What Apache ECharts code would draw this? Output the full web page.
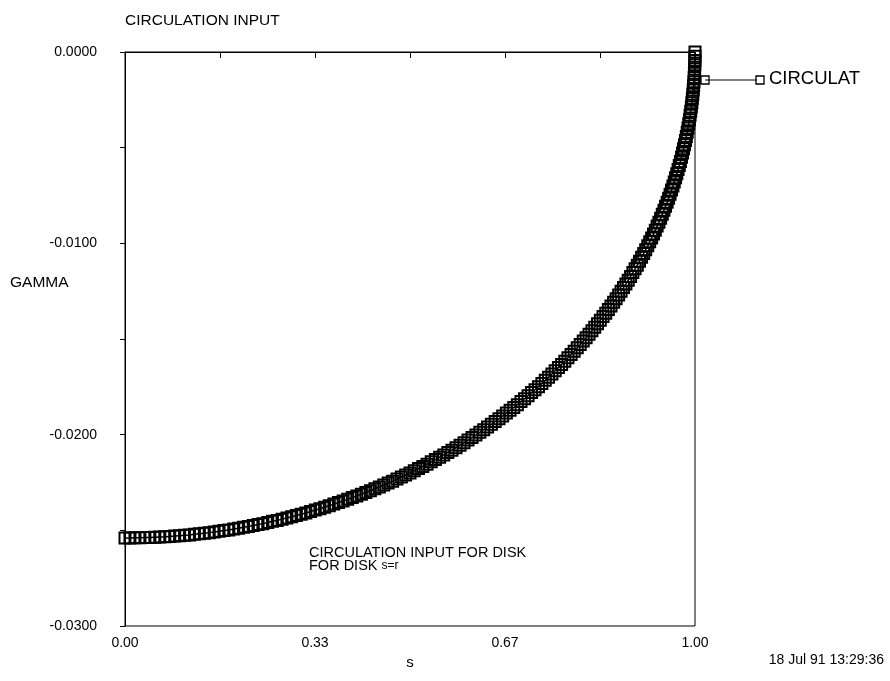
<!DOCTYPE html>
<html>
<head>
<meta charset="utf-8">
<title>CIRCULATION INPUT</title>
<script src="https://cdn.jsdelivr.net/npm/echarts@6/dist/echarts.min.js"></script>
<style>
  html, body { margin: 0; padding: 0; background: #fff; }
  #chart { width: 890px; height: 681px; }
</style>
</head>
<body>
<div id="chart"></div>
<script>
// Radial station s = r / R along the disk
const sValues = [
  0.0000, 0.0087, 0.0175, 0.0262, 0.0349, 0.0436, 0.0523, 0.0610, 0.0698, 0.0785,
  0.0872, 0.0958, 0.1045, 0.1132, 0.1219, 0.1305, 0.1392, 0.1478, 0.1564, 0.1650,
  0.1736, 0.1822, 0.1908, 0.1994, 0.2079, 0.2164, 0.2250, 0.2334, 0.2419, 0.2504,
  0.2588, 0.2672, 0.2756, 0.2840, 0.2924, 0.3007, 0.3090, 0.3173, 0.3256, 0.3338,
  0.3420, 0.3502, 0.3584, 0.3665, 0.3746, 0.3827, 0.3907, 0.3987, 0.4067, 0.4147,
  0.4226, 0.4305, 0.4384, 0.4462, 0.4540, 0.4617, 0.4695, 0.4772, 0.4848, 0.4924,
  0.5000, 0.5075, 0.5150, 0.5225, 0.5299, 0.5373, 0.5446, 0.5519, 0.5592, 0.5664,
  0.5736, 0.5807, 0.5878, 0.5948, 0.6018, 0.6088, 0.6157, 0.6225, 0.6293, 0.6361,
  0.6428, 0.6494, 0.6561, 0.6626, 0.6691, 0.6756, 0.6820, 0.6884, 0.6947, 0.7009,
  0.7071, 0.7133, 0.7193, 0.7254, 0.7314, 0.7373, 0.7431, 0.7490, 0.7547, 0.7604,
  0.7660, 0.7716, 0.7771, 0.7826, 0.7880, 0.7934, 0.7986, 0.8039, 0.8090, 0.8141,
  0.8192, 0.8241, 0.8290, 0.8339, 0.8387, 0.8434, 0.8480, 0.8526, 0.8572, 0.8616,
  0.8660, 0.8703, 0.8746, 0.8788, 0.8829, 0.8870, 0.8910, 0.8949, 0.8988, 0.9026,
  0.9063, 0.9100, 0.9135, 0.9171, 0.9205, 0.9239, 0.9272, 0.9304, 0.9336, 0.9367,
  0.9397, 0.9426, 0.9455, 0.9483, 0.9511, 0.9537, 0.9563, 0.9588, 0.9613, 0.9636,
  0.9659, 0.9681, 0.9703, 0.9724, 0.9744, 0.9763, 0.9781, 0.9799, 0.9816, 0.9833,
  0.9848, 0.9863, 0.9877, 0.9890, 0.9903, 0.9914, 0.9925, 0.9936, 0.9945, 0.9954,
  0.9962, 0.9969, 0.9976, 0.9981, 0.9986, 0.9990, 0.9994, 0.9997, 0.9998, 1.0000,
  1.0000
];

// Circulation GAMMA at each station
const gammaValues = [
  -0.02540, -0.02540, -0.02539, -0.02539, -0.02538, -0.02537, -0.02536, -0.02535, -0.02534, -0.02532,
  -0.02530, -0.02528, -0.02526, -0.02524, -0.02521, -0.02518, -0.02515, -0.02512, -0.02509, -0.02505,
  -0.02501, -0.02498, -0.02493, -0.02489, -0.02484, -0.02480, -0.02475, -0.02470, -0.02465, -0.02459,
  -0.02453, -0.02448, -0.02442, -0.02435, -0.02429, -0.02422, -0.02416, -0.02409, -0.02402, -0.02394,
  -0.02387, -0.02379, -0.02371, -0.02363, -0.02355, -0.02347, -0.02338, -0.02329, -0.02320, -0.02311,
  -0.02302, -0.02293, -0.02283, -0.02273, -0.02263, -0.02253, -0.02243, -0.02232, -0.02221, -0.02211,
  -0.02200, -0.02188, -0.02177, -0.02166, -0.02154, -0.02142, -0.02130, -0.02118, -0.02106, -0.02093,
  -0.02081, -0.02068, -0.02055, -0.02042, -0.02028, -0.02015, -0.02002, -0.01988, -0.01974, -0.01960,
  -0.01946, -0.01931, -0.01917, -0.01902, -0.01887, -0.01873, -0.01858, -0.01843, -0.01827, -0.01812,
  -0.01796, -0.01780, -0.01765, -0.01749, -0.01732, -0.01716, -0.01700, -0.01683, -0.01666, -0.01649,
  -0.01633, -0.01616, -0.01598, -0.01581, -0.01564, -0.01546, -0.01529, -0.01511, -0.01493, -0.01475,
  -0.01457, -0.01439, -0.01420, -0.01402, -0.01383, -0.01365, -0.01346, -0.01327, -0.01308, -0.01289,
  -0.01270, -0.01251, -0.01231, -0.01212, -0.01193, -0.01173, -0.01153, -0.01133, -0.01114, -0.01093,
  -0.01073, -0.01053, -0.01033, -0.01013, -0.00992, -0.00972, -0.00951, -0.00931, -0.00910, -0.00890,
  -0.00869, -0.00848, -0.00827, -0.00806, -0.00785, -0.00764, -0.00743, -0.00721, -0.00700, -0.00679,
  -0.00657, -0.00636, -0.00614, -0.00593, -0.00572, -0.00550, -0.00528, -0.00506, -0.00485, -0.00463,
  -0.00441, -0.00419, -0.00397, -0.00375, -0.00354, -0.00331, -0.00310, -0.00288, -0.00265, -0.00243,
  -0.00221, -0.00199, -0.00177, -0.00155, -0.00133, -0.00111, -0.00089, -0.00067, -0.00044, -0.00022,
  0.00000
];

// Tick labels: x is ticked every 1/6 with labels every 1/3, y every 0.005 with labels every 0.01
const xTickLabels = ['0.00', '0.33', '0.67', '1.00'];
const yTickLabels = ['0.0000', '-0.0100', '-0.0200', '-0.0300'];

const seriesName = 'CIRCULAT';
const titleText = 'CIRCULATION INPUT';
const noteLine1 = 'CIRCULATION INPUT FOR DISK';
const noteLine2 = 'FOR DISK ';
const noteSub = 's=r';
const stampText = '18 Jul 91 13:29:36';

const FONT = '"Liberation Sans", Arial, Helvetica, sans-serif';
const INK = '#000';

const chart = echarts.init(document.getElementById('chart'), null, { renderer: 'canvas' });

const points = sValues.map((s, i) => [s, gammaValues[i]]);

chart.setOption({
  animation: false,
  backgroundColor: '#fff',
  title: {
    text: titleText,
    left: 120,
    top: 8,
    textStyle: { fontFamily: FONT, fontSize: 15.5, fontWeight: 'normal', color: INK }
  },
  grid: {
    left: 125, top: 52, width: 570, height: 574,
    show: true, borderColor: INK, borderWidth: 1, backgroundColor: 'transparent'
  },
  xAxis: {
    type: 'value', min: 0, max: 1, interval: 1 / 6,
    name: 's', nameLocation: 'middle', nameGap: 27,
    nameTextStyle: { fontFamily: FONT, fontSize: 15, color: INK },
    axisLine: { show: true, lineStyle: { color: INK, width: 1 } },
    axisTick: { show: true, inside: false, length: 6, lineStyle: { color: INK } },
    splitLine: { show: false },
    axisLabel: {
      margin: 10, fontFamily: FONT, fontSize: 14, color: INK,
      formatter: function (v) {
        const k = Math.round(v * 6);
        return k % 2 === 0 ? xTickLabels[k / 2] : '';
      }
    }
  },
  yAxis: {
    type: 'value', min: -0.03, max: 0, interval: 0.005,
    axisLine: { show: true, lineStyle: { color: INK, width: 1 } },
    axisTick: { show: true, inside: false, length: 5, lineStyle: { color: INK } },
    splitLine: { show: false },
    axisLabel: {
      margin: 28, fontFamily: FONT, fontSize: 14, color: INK,
      formatter: function (v) {
        const k = Math.round(-v / 0.005);
        return k % 2 === 0 ? yTickLabels[k / 2] : '';
      }
    }
  },
  series: [{
    name: seriesName,
    type: 'line',
    data: points,
    showSymbol: true,
    showAllSymbol: true,
    symbol: 'rect',
    symbolSize: 11,
    itemStyle: { color: 'rgba(0,0,0,0)', borderColor: INK, borderWidth: 2 },
    lineStyle: { color: INK, width: 1.5 },
    emphasis: { disabled: true },
    z: 3
  }],
  graphic: [
    // y axis caption
    {
      type: 'text', left: 10, top: 275,
      style: { text: 'GAMMA', font: '15.5px ' + FONT, fill: INK }
    },
    // series key: line with a square at each end
    {
      type: 'line', shape: { x1: 705, y1: 80, x2: 757, y2: 80 },
      style: { stroke: INK, lineWidth: 1 }
    },
    {
      type: 'rect', shape: { x: 701, y: 76, width: 8, height: 8 },
      style: { fill: 'transparent', stroke: INK, lineWidth: 1.3 }
    },
    {
      type: 'rect', shape: { x: 756, y: 76, width: 8, height: 8 },
      style: { fill: 'transparent', stroke: INK, lineWidth: 1.3 }
    },
    {
      type: 'text', left: 769, top: 69,
      style: { text: seriesName, font: '18.5px ' + FONT, fill: INK }
    },
    // annotation inside the plot
    {
      type: 'text', left: 309, top: 545,
      style: {
        text: noteLine1 + '\n{m|' + noteLine2 + '}{s|' + noteSub + '}',
        font: '14.5px ' + FONT, fill: INK, lineHeight: 13,
        rich: {
          m: { fontFamily: FONT, fontSize: 14.5, fill: INK, lineHeight: 13 },
          s: { fontFamily: FONT, fontSize: 12, fill: INK, lineHeight: 13 }
        }
      }
    },
    // time stamp
    {
      type: 'text', right: 6, top: 653,
      style: { text: stampText, font: '14px ' + FONT, fill: INK }
    }
  ]
});
</script>
</body>
</html>
